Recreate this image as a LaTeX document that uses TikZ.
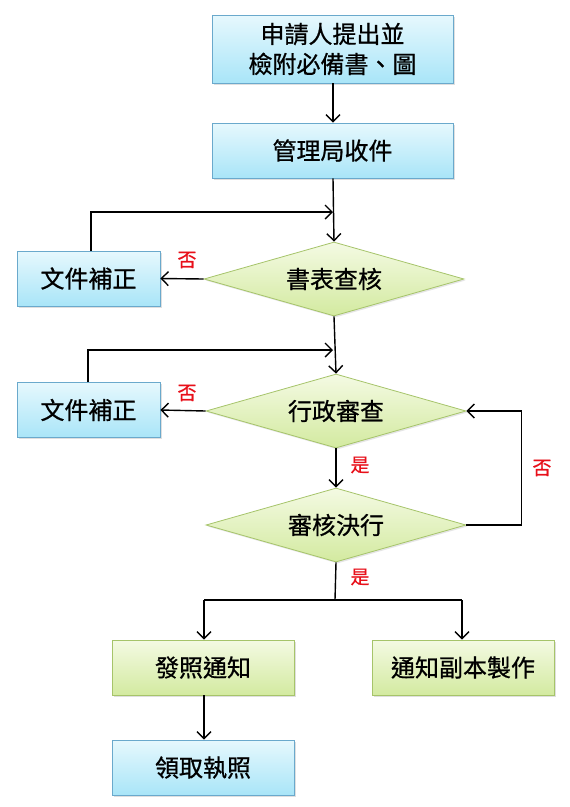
\documentclass[tikz,border=0pt]{standalone}
\usepackage{fontspec}
\setmainfont[FakeBold=0.7]{Noto Sans CJK TC}
\usetikzlibrary{shapes.geometric,arrows.meta,shadows}
\definecolor{bluetop}{HTML}{E6F8FD}
\definecolor{bluebot}{HTML}{A9E5F8}
\definecolor{blueline}{HTML}{6AA9CC}
\definecolor{greentop}{HTML}{F4FAE3}
\definecolor{greenbot}{HTML}{D3EAA0}
\definecolor{greenline}{HTML}{A6C46A}
\definecolor{labred}{HTML}{E8101A}
\tikzset{
  bluebox/.style={draw=blueline, line width=0.8pt, top color=bluetop, bottom color=bluebot,
    minimum width=241pt, minimum height=55pt, inner sep=0pt, align=center,
    font=\fontsize{24}{30}\selectfont,
    drop shadow={shadow xshift=1.5pt, shadow yshift=-1.5pt, opacity=0.25}},
  greenbox/.style={draw=greenline, line width=0.8pt, top color=greentop, bottom color=greenbot,
    minimum width=182pt, minimum height=55pt, inner sep=0pt, align=center,
    font=\fontsize{24}{30}\selectfont,
    drop shadow={shadow xshift=1.5pt, shadow yshift=-1.5pt, opacity=0.25}},
  decision/.style={diamond, draw=greenline, line width=0.8pt, top color=greentop, bottom color=greenbot,
    minimum width=260pt, minimum height=74pt, inner sep=0pt, aspect=3.5,
    font=\fontsize{24}{30}\selectfont,
    drop shadow={shadow xshift=1.5pt, shadow yshift=-1.5pt, opacity=0.2}},
  conn/.style={line width=1.4pt, -{Straight Barb[length=7pt,width=14pt,line width=1.4pt]}},
  plainconn/.style={line width=1.4pt},
  lab/.style={text=labred, font=\fontsize{19}{22}\selectfont, inner sep=0pt}
}
\begin{document}
\begin{tikzpicture}[x=1pt,y=-1pt]
\useasboundingbox (0,0) rectangle (570,807);
\fill[white] (0,0) rectangle (570,807);
% nodes
\node[bluebox, minimum height=68pt] (apply) at (332.5,49) {申請人提出並\\檢附必備書、圖};
\node[bluebox] (receive) at (332.5,150.5) {管理局收件};
\node[decision] (check) at (334,279) {書表查核};
\node[bluebox, minimum width=143pt] (fix1) at (88.5,278.5) {文件補正};
\node[decision] (admin) at (336,411) {行政審查};
\node[bluebox, minimum width=143pt] (fix2) at (88.5,410) {文件補正};
\node[decision] (decide) at (336,525) {審核決行};
\node[greenbox] (notify) at (203,667.5) {發照通知};
\node[greenbox] (copy) at (463,667.5) {通知副本製作};
\node[bluebox, minimum width=182pt] (collect) at (203,767.5) {領取執照};
% coordinates
\coordinate (j1) at (333,212);
\coordinate (j2) at (333,350);
\coordinate (split) at (335,600);
\coordinate (sl) at (204,600);
\coordinate (sr) at (462,600);
% connectors
\draw[conn] (apply.south -| 333,0) -- (receive.north -| 333,0);
\draw[conn] (receive.south -| 333,0) -- (check.north);
\draw[conn] (fix1.north -| 91,0) |- (j1);
\draw[conn] (check.west) -- (fix1.east);
\draw[conn] (check.south) -- (admin.north);
\draw[conn] (fix2.north -| 88,0) |- (j2);
\draw[conn] (admin.west) -- (fix2.east);
\draw[conn] (admin.south) -- (decide.north);
\draw[conn] (decide.east) -- ++(55,0) |- (admin.east);
\draw[plainconn] (decide.south) -- (split);
\draw[plainconn] (sl) -- (sr);
\draw[conn] (sl) -- (notify.north -| sl);
\draw[conn] (sr) -- (copy.north -| sr);
\draw[conn] (notify.south -| 204,0) -- (collect.north -| 204,0);
% labels
\node[lab] (n1) at (187,260) {否};
\node[lab] (n2) at (187,393) {否};
\node[lab] (y1) at (360,465) {是};
\node[lab] (n3) at (542,468) {否};
\node[lab] (y2) at (360,577) {是};
\end{tikzpicture}
\end{document}
